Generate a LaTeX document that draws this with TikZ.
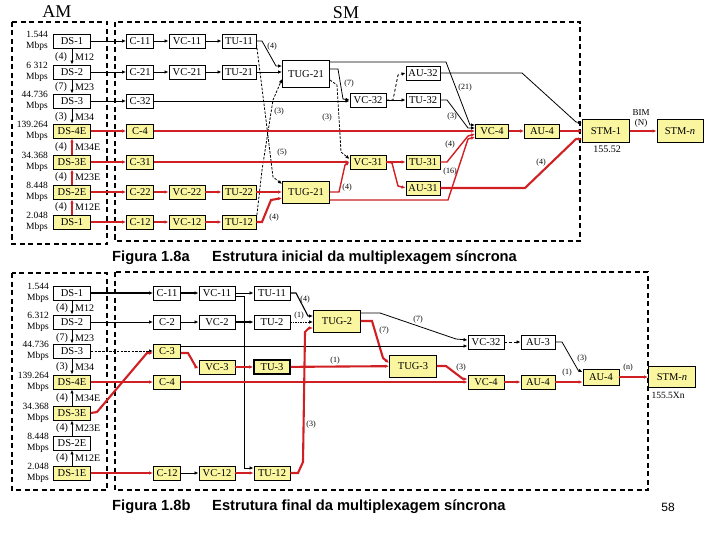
\documentclass[tikz,border=0pt]{standalone}
\usepackage{fontspec}
\setmainfont{Liberation Serif}
\newfontfamily\capfont{Liberation Sans}
\usetikzlibrary{arrows.meta}
\definecolor{boxyel}{RGB}{250,246,160}
\definecolor{lred}{RGB}{208,32,36}
\begin{document}
\begin{tikzpicture}[x=1pt,y=-1pt,
  bx/.style={draw=black, line width=0.9pt, fill=white, inner sep=0pt, minimum height=14pt, font=\fontsize{10.5}{10.5}\selectfont},
  yb/.style={bx, fill=boxyel},
  wds/.style={minimum width=37pt},
  wc/.style={minimum width=27pt},
  wvc/.style={minimum width=36pt},
  wtu/.style={minimum width=34pt},
  rate/.style={anchor=east, align=right, inner sep=0pt, font=\fontsize{9.5}{10.5}\selectfont},
  mx/.style={inner sep=0pt, font=\fontsize{10}{10}\selectfont},
  lab/.style={inner sep=0pt, font=\fontsize{8}{8}\selectfont},
  arr/.style={-{Latex[length=4pt,width=3.5pt]}},
  bl/.style={line width=0.8pt, black, arr},
  rd/.style={line width=2.1pt, lred, arr},
  rdt/.style={line width=1.4pt, lred, arr},
  dsh/.style={line width=0.8pt, black, dash pattern=on 2.5pt off 1.5pt, arr},
  dbox/.style={line width=1.4pt, dash pattern=on 5pt off 3.5pt},
  capt/.style={anchor=west, inner sep=0pt, font=\capfont\bfseries\fontsize{14.7}{14.7}\selectfont}
]
\useasboundingbox (0,0) rectangle (720,540);

% ================= TOP (1.8a) =================
\node[font=\fontsize{18}{18}\selectfont, inner sep=0pt] (am1) at (57,12) {AM};
\node[font=\fontsize{18}{18}\selectfont, inner sep=0pt] (sm1) at (346,13) {SM};
\draw[dbox] (12,22) rectangle (107,244);
\draw[dbox] (115,22) rectangle (580,241);

% DS column
\node[bx,wds] (a1) at (72,41) {DS-1};
\node[bx,wds] (a2) at (72,72) {DS-2};
\node[bx,wds] (a3) at (72,101) {DS-3};
\node[yb,wds] (a4) at (72,131) {DS-4E};
\node[yb,wds] (a5) at (72,162) {DS-3E};
\node[yb,wds] (a6) at (72,192) {DS-2E};
\node[yb,wds] (a7) at (72,222) {DS-1};

\node[rate] (ra1) at (48,41) {1.544\\Mbps};
\node[rate] (ra2) at (48,72) {6 312\\Mbps};
\node[rate] (ra3) at (48,101) {44.736\\Mbps};
\node[rate] (ra4) at (48,131) {139.264\\Mbps};
\node[rate] (ra5) at (48,162) {34.368\\Mbps};
\node[rate] (ra6) at (48,192) {8.448\\Mbps};
\node[rate] (ra7) at (48,222) {2.048\\Mbps};

\node[mx] (ma1) at (61,57) {(4)};  \node[mx,anchor=west] (mb1) at (75,57) {M12};
\node[mx] (ma2) at (61,87) {(7)};  \node[mx,anchor=west] (mb2) at (75,87) {M23};
\node[mx] (ma3) at (61,117) {(3)}; \node[mx,anchor=west] (mb3) at (75,117) {M34};
\node[mx] (ma4) at (61,147) {(4)}; \node[mx,anchor=west] (mb4) at (75,147) {M34E};
\node[mx] (ma5) at (61,177) {(4)}; \node[mx,anchor=west] (mb5) at (75,177) {M23E};
\node[mx] (ma6) at (61,207) {(4)}; \node[mx,anchor=west] (mb6) at (75,207) {M12E};
\draw[bl] (a1) -- (a2);
\draw[bl] (a2) -- (a3);
\draw[bl] (a3) -- (a4);
\draw[rdt] (a5) -- (a4);
\draw[rdt] (a6) -- (a5);
\draw[rdt] (a7) -- (a6);

% containers etc.
\node[bx,wc] (c11) at (140,41) {C-11};
\node[bx,wvc] (vc11) at (187,41) {VC-11};
\node[bx,wtu] (tu11) at (239,41) {TU-11};
\node[bx,wc] (c21) at (140,72) {C-21};
\node[bx,wvc] (vc21) at (187,72) {VC-21};
\node[bx,wtu] (tu21) at (239,72) {TU-21};
\node[bx,wc] (c32) at (140,101) {C-32};
\node[yb,wc] (c4) at (140,131) {C-4};
\node[yb,wc] (c31) at (140,162) {C-31};
\node[yb,wc] (c22) at (140,192) {C-22};
\node[yb,wvc] (vc22) at (187,192) {VC-22};
\node[yb,wtu] (tu22) at (239,192) {TU-22};
\node[yb,wc] (c12) at (140,222) {C-12};
\node[yb,wvc] (vc12) at (187,222) {VC-12};
\node[yb,wtu] (tu12) at (239,222) {TU-12};
\node[bx,minimum width=47pt,minimum height=27pt] (tugA) at (306,74) {TUG-21};
\node[yb,minimum width=47pt,minimum height=22pt] (tugB) at (306,192) {TUG-21};
\node[bx,wvc] (vc32) at (368,100) {VC-32};
\node[bx,wtu] (au32) at (423,73) {AU-32};
\node[bx,wtu] (tu32) at (423,100) {TU-32};
\node[yb,wvc] (vc31) at (368,162) {VC-31};
\node[yb,wtu] (tu31) at (423,162) {TU-31};
\node[yb,wtu] (au31) at (423,188) {AU-31};
\node[yb,minimum width=33pt] (vc4) at (492,131) {VC-4};
\node[yb,minimum width=35pt] (au4) at (542,131) {AU-4};
\node[yb,minimum width=47pt,minimum height=23pt] (stm1) at (606,131) {STM-1};
\node[yb,minimum width=46pt,minimum height=23pt] (stmn) at (680,131) {STM-\textit{n}};
\node[lab,font=\fontsize{10}{10}\selectfont] (f155) at (607,149) {155.52};
\node[lab,font=\fontsize{9}{9}\selectfont] (bim) at (641,113) {BIM};
\node[lab,font=\fontsize{9}{9}\selectfont] (bimn) at (641,123) {(N)};

% black connectors
\draw[bl] (a1) -- (c11);
\draw[bl] (c11) -- (vc11);
\draw[bl] (vc11) -- (tu11);
\draw[bl] (a2) -- (c21);
\draw[bl] (c21) -- (vc21);
\draw[bl] (vc21) -- (tu21);
\draw[bl] (tu21.east) -- (tu21.east -| tugA.west);
\draw[bl] (a3) -- (c32);
\draw[bl] (c32.east) -- (c32.east -| vc32.west);
\draw[bl] (tu11.east) -- (262,41) -- (276,66) -- ([yshift=8pt]tugA.west);
\node[lab] (l4a) at (272,47) {(4)};
\draw[dsh] ([yshift=-3pt]tu11.east) -- (266,120) -- (273,177) -- ([yshift=8pt]tugB.west);
\node[lab] (l5a) at (282,153) {(5)};
\draw[dsh] ([yshift=3pt]tu12.east) -- (262,170) -- (273,100) -- ([yshift=-5pt]tugA.west);
\node[lab] (l3a) at (279,112) {(3)};
\draw[dsh] ([yshift=-6pt]tugA.east) -- (337,85) -- (341,152) -- ([yshift=3pt]vc31.west);
\node[lab] (l3b) at (327,118) {(3)};
\draw[bl] ([yshift=5pt]tugA.east) -- (338,69) -- (343,99) -- (vc32.west);
\node[lab] (l7a) at (349,84) {(7)};
\draw[bl] ([yshift=12pt]tugA.east) -- (446,62) -- (470,125) -- ([yshift=6pt]vc4.west);
\node[lab] (l21) at (465,88) {(21)};
\draw[bl,densely dashed] (vc32.east) -- (393,100) -- (398,75) -- (au32.west);
\draw[bl] (vc32.east) -- (tu32.west);
\draw[bl] (au32.east) -- (522,73) -- (576,122) -- ([yshift=8pt]stm1.west);
\draw[bl] (tu32.east) -- (447,100) -- (468,128) -- ([yshift=3pt]vc4.west);
\node[lab] (l3c) at (452,117) {(3)};

% red connectors
\draw[rd] (a4) -- (c4);
\draw[rd] (c4) -- (vc4);
\draw[rd] (a5) -- (c31);
\draw[rd] (c31) -- (vc31);
\draw[rdt] (vc31) -- (tu31);
\draw[rdt] (vc31.east) -- (392,163) -- (398,186) -- (au31.west);
\draw[rdt] (tu31.east) -- (447,162) -- (468,136) -- ([yshift=-3pt]vc4.west);
\node[lab] (l4b) at (450,145) {(4)};
\draw[rd] (au31.east) -- (525,188) -- (576,139) -- ([yshift=-8pt]stm1.west);
\node[lab] (l4c) at (541,163) {(4)};
\draw[rdt] (tugB.east) -- (339,192) -- (345,165) -- (vc31.west);
\node[lab] (l4d) at (347,188) {(4)};
\draw[rdt] ([yshift=-8pt]tugB.east) -- (448,200) -- (468,139) -- ([yshift=-6pt]vc4.west);
\node[lab] (l16) at (450,172) {(16)};
\draw[rd] (a6) -- (c22);
\draw[rd] (c22) -- (vc22);
\draw[rd] (vc22) -- (tu22);
\draw[rd] (tu22) -- (tugB);
\draw[rd] (a7) -- (c12);
\draw[rd] (c12) -- (vc12);
\draw[rd] (vc12) -- (tu12);
\draw[rd] (tu12.east) -- (262,222) -- (271,200) -- ([yshift=-6pt]tugB.west);
\node[lab] (l4e) at (274,218) {(4)};
\draw[rd] (vc4) -- (au4);
\draw[rd] (au4) -- (stm1);
\draw[rd] (stm1) -- (stmn);

\node[capt] (cap1) at (112,258) {Figura 1.8a};
\node[capt] (cap1b) at (212,258) {Estrutura inicial da multiplexagem síncrona};

% ================= BOTTOM (1.8b) =================
\draw[dbox] (12,273) rectangle (107,490);
\draw[dbox] (115,272) rectangle (648,490);

\node[bx,wds] (b1) at (72,293) {DS-1};
\node[bx,wds] (b2) at (72,322) {DS-2};
\node[bx,wds] (b3) at (72,351) {DS-3};
\node[yb,wds] (b4) at (72,382) {DS-4E};
\node[yb,wds] (b5) at (72,413) {DS-3E};
\node[bx,wds] (b6) at (72,443) {DS-2E};
\node[yb,wds] (b7) at (72,473) {DS-1E};

\node[rate] (rb1) at (49,293) {1.544\\Mbps};
\node[rate] (rb2) at (49,322) {6.312\\Mbps};
\node[rate] (rb3) at (49,351) {44.736\\Mbps};
\node[rate] (rb4) at (49,382) {139.264\\Mbps};
\node[rate] (rb5) at (49,413) {34.368\\Mbps};
\node[rate] (rb6) at (49,443) {8.448\\Mbps};
\node[rate] (rb7) at (49,473) {2.048\\Mbps};

\node[mx] (na1) at (62,308) {(4)}; \node[mx,anchor=west] (nb1) at (75,308) {M12};
\node[mx] (na2) at (62,338) {(7)}; \node[mx,anchor=west] (nb2) at (75,338) {M23};
\node[mx] (na3) at (62,367) {(3)}; \node[mx,anchor=west] (nb3) at (75,367) {M34};
\node[mx] (na4) at (62,398) {(4)}; \node[mx,anchor=west] (nb4) at (75,398) {M34E};
\node[mx] (na5) at (62,428) {(4)}; \node[mx,anchor=west] (nb5) at (75,428) {M23E};
\node[mx] (na6) at (62,458) {(4)}; \node[mx,anchor=west] (nb6) at (75,458) {M12E};
\draw[bl] (b1) -- (b2);
\draw[bl] (b2) -- (b3);
\draw[bl] (b3) -- (b4);
\draw[bl] (b5) -- (b4);
\draw[bl] (b6) -- (b5);
\draw[bl] (b7) -- (b6);

\node[bx,wc] (d11) at (167,293) {C-11};
\node[bx,wc] (d2) at (167,322) {C-2};
\node[yb,wc] (d3) at (167,351) {C-3};
\node[yb,wc] (d4) at (167,382) {C-4};
\node[yb,wc] (d12) at (167,473) {C-12};
\node[bx,wvc] (e11) at (217,293) {VC-11};
\node[bx,wvc] (e2) at (217,322) {VC-2};
\node[yb,wvc] (e3) at (217,367) {VC-3};
\node[yb,wvc] (e12) at (217,473) {VC-12};
\node[bx,wvc] (f11) at (272,293) {TU-11};
\node[bx,wvc] (f2) at (272,322) {TU-2};
\node[yb,wvc,line width=1.6pt] (f3) at (272,367) {TU-3};
\node[yb,wvc] (f12) at (272,473) {TU-12};
\node[yb,minimum width=47pt,minimum height=22pt] (tug2) at (337,321) {TUG-2};
\node[yb,minimum width=47pt,minimum height=22pt] (tug3) at (413,366) {TUG-3};
\node[bx,wvc] (g32) at (486,342) {VC-32};
\node[bx,wtu] (h3) at (538,342) {AU-3};
\node[yb,wvc] (g4) at (486,382) {VC-4};
\node[yb,wtu] (h4) at (538,382) {AU-4};
\node[yb,wvc,minimum height=16pt] (k4) at (601,377) {AU-4};
\node[yb,minimum width=47pt,minimum height=21pt] (stmb) at (672,377) {STM-\textit{n}};
\node[lab,font=\fontsize{9.5}{9.5}\selectfont] (f155b) at (668,395) {155.5Xn};

% black connectors
\draw[bl,line width=1.2pt] (b1) -- (d11);
\draw[bl,line width=1.1pt] (d11) -- (e11);
\draw[bl] (e11) -- (f11);
\draw[line width=0.7pt, black, arr] ([yshift=-3pt]e11.east) -- (244,296) -- (244,468) -- ([yshift=5pt]f12.west);
\draw[bl,line width=1.1pt] (f11.east) -- (296,293) -- (308,316) -- ([yshift=5pt]tug2.west);
\node[lab] (m4a) at (305,300) {(4)};
\draw[bl] (b2) -- (d2);
\draw[bl] (d2) -- (e2);
\draw[bl,line width=1.2pt] (e2) -- (f2);
\draw[bl,dash pattern=on 1.5pt off 1pt] (f2.east) -- (f2.east -| tug2.west);
\node[lab] (m1a) at (299,316) {(1)};
\draw[bl] ([yshift=8pt]tug2.east) -- (380,313) -- (456,339) -- ([yshift=2pt]g32.west);
\node[lab] (m7a) at (418,320) {(7)};
\draw[rd] (tug2.east) -- (372,321) -- (383,358) -- ([yshift=3pt]tug3.west);
\node[lab] (m7b) at (384,331) {(7)};
\draw[bl,dash pattern=on 2.5pt off 1.2pt] (b3) -- (d3);
\draw[bl] ([yshift=5pt]d3.east) -- ([yshift=-4pt]g32.west);
\draw[rd] ([yshift=-2pt]d3.east) -- (188,353) -- (196,367) -- (e3.west);
\draw[rd] (e3) -- (f3);
\draw[rd] (f3) -- (tug3);
\node[lab] (m1b) at (335,361) {(1)};
\draw[rd] (b4) -- (d4);
\draw[rd] (d4) -- (g4);
\draw[rd] (tug3.east) -- (446,366) -- (463,379) -- ([yshift=3pt]g4.west);
\node[lab] (m3a) at (461,368) {(3)};
\draw[rd] (b5.east) -- (97,412) -- (147,353) -- ([yshift=-2pt]d3.west);
\draw[rd] (b7) -- (d12);
\draw[bl] (d12) -- (e12);
\draw[rd] (e12) -- (f12);
\draw[rd] (f12.east) -- (298,473) -- (303,462) -- (305,332) -- (309,328) -- ([yshift=-7pt]tug2.west);
\node[lab] (m3b) at (311,425) {(3)};
\draw[rd] (g4) -- (h4);
\draw[rd] (h4.east) -- (h4.east -| k4.west);
\node[lab] (m1c) at (567,373) {(1)};
\draw[rd,line width=2.6pt] (k4) -- (stmb);
\node[lab] (mn) at (628,368) {(n)};
\draw[bl,densely dashed] (g32) -- (h3);
\draw[bl] (h3.east) -- (562,342) -- (578,370) -- ([yshift=5pt]k4.west);
\node[lab] (m3c) at (582,359) {(3)};

\node[capt] (cap2) at (112,507) {Figura 1.8b};
\node[capt] (cap2b) at (212,507) {Estrutura final da multiplexagem síncrona};
\node[inner sep=0pt, font=\capfont\fontsize{12}{12}\selectfont] (pg) at (668,507) {58};
\end{tikzpicture}
\end{document}
